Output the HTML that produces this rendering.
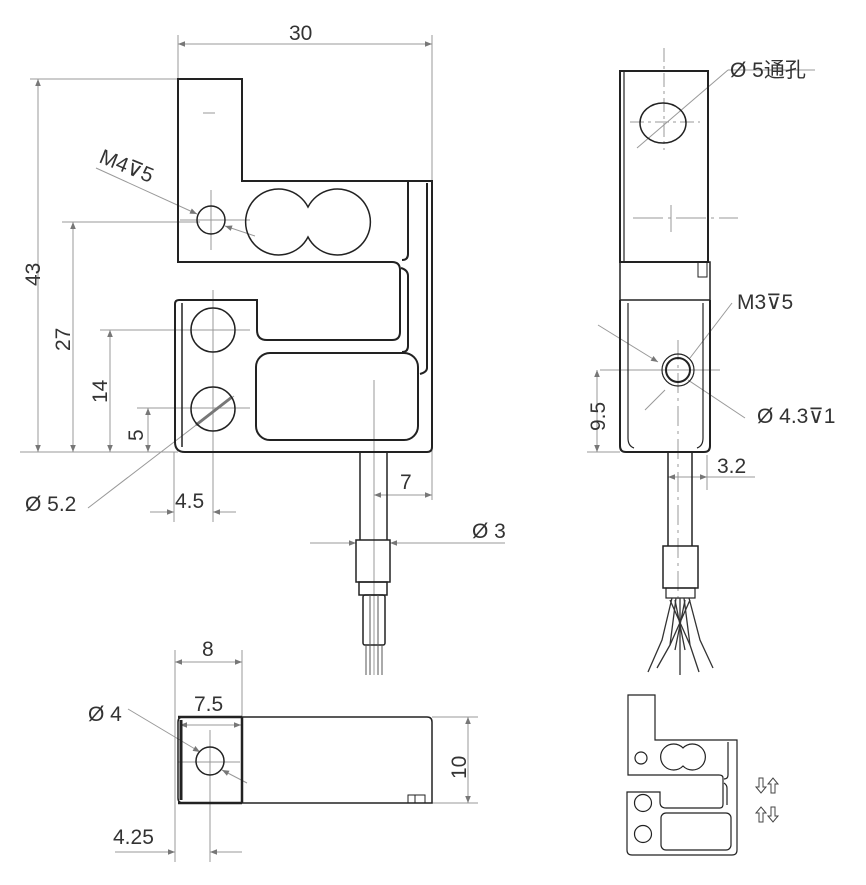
<!DOCTYPE html>
<html><head><meta charset="utf-8"><style>
html,body{margin:0;padding:0;background:#fff;}
svg{display:block;}
text{font-family:"Liberation Sans","Noto Sans CJK SC",sans-serif;fill:#333;}
</style></head><body>
<svg width="866" height="885" viewBox="0 0 866 885" xmlns="http://www.w3.org/2000/svg">
<defs>
<marker id="a" viewBox="0 0 10 10" refX="10" refY="5" markerWidth="9" markerHeight="7" orient="auto-start-reverse" markerUnits="userSpaceOnUse"><path d="M0,1 L10,5 L0,9 z" fill="#777"/></marker>
</defs>
<g stroke="#999" stroke-width="1" fill="none">
<line x1="178" y1="35" x2="178" y2="79"/><line x1="432" y1="35" x2="432" y2="500"/>
<line x1="178" y1="44" x2="432" y2="44" marker-start="url(#a)" marker-end="url(#a)"/>
<line x1="30" y1="79" x2="178" y2="79"/><line x1="20" y1="452" x2="178" y2="452"/>
<line x1="38" y1="79" x2="38" y2="452" marker-start="url(#a)" marker-end="url(#a)"/>
<line x1="62" y1="222" x2="200" y2="222"/>
<line x1="73" y1="222" x2="73" y2="452" marker-start="url(#a)" marker-end="url(#a)"/>
<line x1="100" y1="330" x2="250" y2="330"/>
<line x1="110" y1="330" x2="110" y2="452" marker-start="url(#a)" marker-end="url(#a)"/>
<line x1="137" y1="408" x2="250" y2="408"/>
<line x1="148" y1="408" x2="148" y2="452" marker-start="url(#a)" marker-end="url(#a)"/>
<line x1="174" y1="452" x2="174" y2="522"/><line x1="213" y1="290" x2="213" y2="522"/>
<line x1="150" y1="512" x2="174" y2="512" marker-end="url(#a)"/><line x1="236" y1="512" x2="213" y2="512" marker-end="url(#a)"/>
<line x1="88" y1="508" x2="234" y2="396"/>
<line x1="96" y1="168" x2="197" y2="214" marker-end="url(#a)"/><line x1="255" y1="236" x2="225" y2="226" marker-end="url(#a)"/>
<line x1="211" y1="190" x2="211" y2="250"/><line x1="180" y1="220" x2="250" y2="220"/>
<line x1="374" y1="380" x2="374" y2="675"/>
<line x1="374" y1="495" x2="432" y2="495" marker-start="url(#a)" marker-end="url(#a)"/>
<line x1="310" y1="543" x2="356" y2="543" marker-end="url(#a)"/><line x1="505" y1="543" x2="390" y2="543" marker-end="url(#a)"/>
<line x1="203" y1="113" x2="215" y2="113"/>
<line x1="664" y1="48" x2="664" y2="150" stroke-dasharray="14 4 3 4"/>
<line x1="630" y1="122" x2="700" y2="122" stroke-dasharray="14 4 3 4"/>
<line x1="637" y1="148" x2="728" y2="70" /><line x1="728" y1="70" x2="815" y2="70"/>
<line x1="633" y1="218" x2="738" y2="218" stroke-dasharray="30 5 3 5"/><line x1="671" y1="205" x2="671" y2="232"/>
<line x1="600" y1="370" x2="720" y2="370"/><line x1="678" y1="340" x2="678" y2="600" stroke-dasharray="20 5 3 5"/>
<line x1="598" y1="325" x2="658" y2="362" marker-end="url(#a)"/><line x1="645" y1="410" x2="665" y2="390"/>
<line x1="690" y1="358" x2="732" y2="303"/>
<line x1="688" y1="380" x2="745" y2="418"/>
<line x1="587" y1="452" x2="620" y2="452"/>
<line x1="597" y1="370" x2="597" y2="452" marker-start="url(#a)" marker-end="url(#a)"/>
<line x1="707" y1="455" x2="707" y2="490"/>
<line x1="668" y1="477" x2="707" y2="477" marker-start="url(#a)" marker-end="url(#a)"/><line x1="707" y1="477" x2="755" y2="477"/>
<line x1="175" y1="650" x2="175" y2="862"/><line x1="242" y1="650" x2="242" y2="717"/>
<line x1="175" y1="662" x2="242" y2="662" marker-start="url(#a)" marker-end="url(#a)"/>
<line x1="180" y1="725" x2="241" y2="725" marker-start="url(#a)" marker-end="url(#a)"/>
<line x1="210" y1="730" x2="210" y2="862"/><line x1="178" y1="762" x2="240" y2="762"/>
<line x1="128" y1="709" x2="200" y2="752" marker-end="url(#a)"/><line x1="247" y1="783" x2="222" y2="770" marker-end="url(#a)"/>
<line x1="432" y1="717" x2="478" y2="717"/><line x1="432" y1="803" x2="478" y2="803"/>
<line x1="468" y1="717" x2="468" y2="803" marker-start="url(#a)" marker-end="url(#a)"/>
<line x1="115" y1="852" x2="175" y2="852" marker-end="url(#a)"/><line x1="242" y1="852" x2="210" y2="852" marker-end="url(#a)"/>
</g>
<line x1="196" y1="425" x2="232" y2="397" stroke="#777" stroke-width="3"/>
<g stroke="#222" stroke-width="2" fill="none">
<path d="M178,79 L242,79 L242,181 L432,181 L432,447 Q432,452 427,452 L185,452 Q175,452 175,442 L175,304 Q175,300 179,300 L257,300 L257,330 Q257,340 267,340 L392,340 Q400,340 400,332 L400,270 Q400,262 392,262 L178,262 Z"/>
<path d="M408,181 L408,254 Q408,260 402,260"/>
<path d="M401,268 Q408,270 408,276 L408,346 Q408,352 402,352"/>
<path d="M427,183 L427,368 Q427,372 420,374"/>
<line x1="182" y1="303" x2="182" y2="447" stroke-width="1.5"/>
<rect x="256" y="353" width="162" height="87" rx="14"/>
<circle cx="211" cy="220" r="14" stroke-width="1.5"/>
<path d="M308,207 A33,33 0 1 0 308,237 A33,33 0 1 0 308,207 Z" stroke-width="1.5"/>
<circle cx="213" cy="330" r="22" stroke-width="1.5"/>
<circle cx="213" cy="409" r="22" stroke-width="1.5"/>
<line x1="360" y1="452" x2="360" y2="540" stroke-width="1.5"/><line x1="387" y1="452" x2="387" y2="540" stroke-width="1.5"/>
<rect x="356" y="540" width="34" height="42" stroke-width="1.5"/>
<rect x="359" y="582" width="28" height="13" stroke-width="1.5"/>
<rect x="363" y="595" width="22" height="50" rx="2" stroke-width="1.5"/>
<g stroke-width="1" stroke="#555"><line x1="370" y1="595" x2="370" y2="675"/><line x1="378" y1="595" x2="378" y2="675"/><line x1="366" y1="645" x2="366" y2="675"/><line x1="382" y1="645" x2="382" y2="675"/></g>
<rect x="620" y="71" width="88" height="191" stroke-width="2"/>
<line x1="624" y1="71" x2="624" y2="262" stroke-width="1.2"/>
<rect x="620" y="262" width="90" height="38" stroke-width="1.5"/>
<rect x="698" y="262" width="9" height="15" stroke-width="1"/>
<path d="M620,300 L620,446 Q620,452 626,452 L704,452 Q710,452 710,446 L710,300" />
<path d="M628,303 L628,438 Q628,446 634,448 M703,303 L703,438 Q703,446 697,448" stroke-width="1.2"/>
<ellipse cx="663" cy="123" rx="23" ry="20" stroke-width="1.5"/>
<circle cx="678" cy="370" r="16" stroke-width="1.2"/>
<circle cx="678" cy="370" r="12" stroke-width="2"/>
<line x1="668" y1="452" x2="668" y2="546" stroke-width="1.5"/><line x1="692" y1="452" x2="692" y2="546" stroke-width="1.5"/>
<rect x="663" y="546" width="35" height="42" stroke-width="1.5"/>
<rect x="666" y="588" width="29" height="10" stroke-width="1.2"/>
<g stroke-width="1.3" stroke="#333"><path d="M672,598 L662,640 L648,672"/><path d="M676,598 L670,645 L657,668"/><line x1="680" y1="598" x2="680" y2="675"/><path d="M684,598 L690,645 L699,672"/><path d="M689,598 L700,640 L713,668"/>
<path d="M670,600 L690,645 M690,600 L670,645 M675,600 L685,650 M685,600 L675,650"/></g>
<path d="M183,717 L427,717 Q432,717 432,722 L432,803 L183,803 Q178,803 178,798 L178,722 Q178,717 183,717 Z" stroke-width="1.5"/>
<line x1="242" y1="717" x2="242" y2="803" stroke-width="2.5"/>
<line x1="181" y1="720" x2="181" y2="800" stroke-width="3"/>
<line x1="178" y1="717" x2="242" y2="717" stroke-width="2.5"/><line x1="178" y1="803" x2="242" y2="803" stroke-width="2.5"/>
<circle cx="210" cy="761" r="14" stroke-width="1.5"/>
<rect x="408" y="795" width="17" height="8" stroke-width="1"/><line x1="415" y1="795" x2="415" y2="803" stroke-width="1"/>
<g stroke-width="1.2">
<path d="M628,695 L655,695 L655,740 L737,740 L737,850 Q737,855 732,855 L632,855 Q627,855 627,850 L627,792 L660,792 L660,802 Q660,808 666,808 L720,808 Q723,808 723,804 L723,778 Q723,775 719,775 L628,775 Z"/>
<path d="M728,742 L728,775 Q728,779 724,779 M724,783 Q727,785 727,788 L727,805"/>
<rect x="661" y="813" width="70" height="37" rx="5"/>
<circle cx="641" cy="758" r="6"/>
<path d="M683,748 A13,13 0 1 0 683,766 A13,13 0 1 0 683,748 Z"/>
<circle cx="643" cy="803" r="8.5"/><circle cx="643" cy="834" r="8.5"/>
</g>
</g>
<g fill="#fff" stroke="#444" stroke-width="1">
<path d="M759,778 L763,778 L763,787 L766,787 L761,793 L756,787 L759,787 Z"/>
<path d="M771,793 L775,793 L775,784 L778,784 L773,778 L768,784 L771,784 Z"/>
<path d="M759,822 L763,822 L763,813 L766,813 L761,807 L756,813 L759,813 Z"/>
<path d="M771,807 L775,807 L775,816 L778,816 L773,822 L768,816 L771,816 Z"/>
</g>
<g font-size="21">
<text x="289" y="40">30</text>
<text transform="translate(40,286) rotate(-90)">43</text>
<text transform="translate(70,351) rotate(-90)">27</text>
<text transform="translate(107,403) rotate(-90)">14</text>
<text transform="translate(143,441) rotate(-90)">5</text>
<text transform="translate(98,162) rotate(22)">M4⊽5</text>
<text x="25" y="511">Ø 5.2</text>
<text x="175" y="508">4.5</text>
<text x="400" y="489">7</text>
<text x="472" y="538">Ø 3</text>
<text x="730" y="77">Ø 5通孔</text>
<text x="737" y="309">M3⊽5</text>
<text x="757" y="423">Ø 4.3⊽1</text>
<text transform="translate(605,431) rotate(-90)">9.5</text>
<text x="717" y="473">3.2</text>
<text x="202" y="656">8</text>
<text x="194" y="711">7.5</text>
<text x="88" y="721">Ø 4</text>
<text transform="translate(466,779) rotate(-90)">10</text>
<text x="113" y="844">4.25</text>
</g>
</svg>
</body></html>
